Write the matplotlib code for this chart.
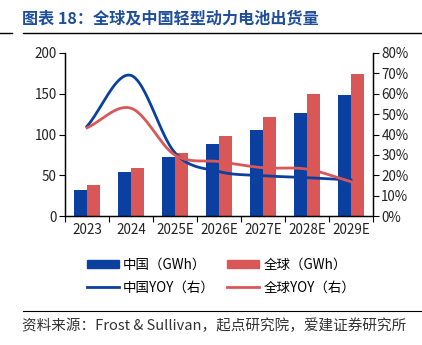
import numpy as np
import matplotlib.pyplot as plt
from matplotlib.patches import Patch
from matplotlib.lines import Line2D

plt.rcParams['font.family'] = ['Noto Sans CJK SC', 'DejaVu Sans']

years = ['2023', '2024', '2025E', '2026E', '2027E', '2028E', '2029E']
china_gwh = [32, 54, 72, 88, 105, 126, 149]
global_gwh = [38, 59, 77, 98, 121, 150, 174]
china_yoy = [44.0, 69.0, 31.0, 21.8, 19.8, 18.8, 17.7]
global_yoy = [43.3, 52.9, 29.9, 26.7, 23.7, 23.0, 16.8]

BLUE = '#0B3FA0'
RED = '#D95757'


def smooth(x, y, n=40):
    # Catmull-Rom spline through the data points
    x = np.asarray(x, float)
    y = np.asarray(y, float)
    px = np.concatenate([[2 * x[0] - x[1]], x, [2 * x[-1] - x[-2]]])
    py = np.concatenate([[2 * y[0] - y[1]], y, [2 * y[-1] - y[-2]]])
    xs, ys = [], []
    t = np.linspace(0, 1, n)
    for i in range(1, len(px) - 2):
        for p, out in ((px, xs), (py, ys)):
            p0, p1, p2, p3 = p[i - 1], p[i], p[i + 1], p[i + 2]
            out.extend(0.5 * (2 * p1 + (-p0 + p2) * t
                              + (2 * p0 - 5 * p1 + 4 * p2 - p3) * t ** 2
                              + (-p0 + 3 * p1 - 3 * p2 + p3) * t ** 3))
    return np.array(xs), np.array(ys)


fig = plt.figure(figsize=(4.22, 3.45), dpi=100)
ax = fig.add_axes([65 / 422, 1 - 216 / 345, 308 / 422, 163 / 345])
ax2 = ax.twinx()

x = np.arange(len(years))
w = 0.285
ax.bar(x - w / 2, china_gwh, w, color=BLUE, zorder=2)
ax.bar(x + w / 2, global_gwh, w, color=RED, zorder=2)

sx, sy = smooth(x, china_yoy)
ax2.plot(sx, sy, color=BLUE, lw=2)
sx, sy = smooth(x, global_yoy)
ax2.plot(sx, sy, color=RED, lw=2)

ax.set_xlim(-0.5, 6.5)
ax.set_ylim(0, 200)
ax2.set_ylim(0, 80)
ax.set_yticks(range(0, 201, 50))
ax2.set_yticks(range(0, 81, 10))
ax2.set_yticklabels([f'{v}%' for v in range(0, 81, 10)])

ax.set_xticks(x)
ax.set_xticklabels(years)
ax.set_xticks(np.arange(-0.5, 7, 1), minor=True)
ax.tick_params(axis='x', which='major', length=0, pad=5, labelsize=9.7, colors='#222222')
ax.tick_params(axis='x', which='minor', length=4, width=0.8)
ax.tick_params(axis='y', length=4, width=0.8, pad=2, labelsize=9.7, labelcolor='#222222')
ax2.tick_params(axis='y', length=4, width=0.8, pad=2, labelsize=9.7, labelcolor='#222222')

for a in (ax, ax2):
    a.spines['top'].set_visible(False)
    for s in ('left', 'right', 'bottom'):
        a.spines[s].set_linewidth(0.9)

handles = [Patch(color=BLUE), Line2D([], [], color=BLUE, lw=2),
           Patch(color=RED), Line2D([], [], color=RED, lw=2)]
labels = ['中国（GWh）', '中国YOY（右）', '全球（GWh）', '全球YOY（右）']
fig.legend(handles, labels, ncol=2, frameon=False, fontsize=9.7,
           loc='center', bbox_to_anchor=(221 / 422, 1 - 276 / 345),
           handlelength=2.4, handleheight=0.6, handletextpad=0.3,
           columnspacing=0.9, labelspacing=0.65)

fig.text(22 / 422, 1 - 18 / 345, '图表 18：全球及中国轻型动力电池出货量',
         color='#1F4E9A', fontsize=11.6, fontweight='bold', va='center')
fig.add_artist(Line2D([23 / 422, 1], [1 - 33 / 345] * 2, color='black', lw=1))
fig.add_artist(Line2D([0, 12 / 422], [1 - 33 / 345] * 2, color='black', lw=1))
fig.add_artist(Line2D([23 / 422, 1], [1 - 311 / 345] * 2, color='black', lw=0.8))
fig.text(22 / 422, 1 - 326 / 345, '资料来源：Frost & Sullivan，起点研究院，爱建证券研究所',
         color='#333333', fontsize=10.5, va='center')

fig.savefig('out.png', dpi=100)
